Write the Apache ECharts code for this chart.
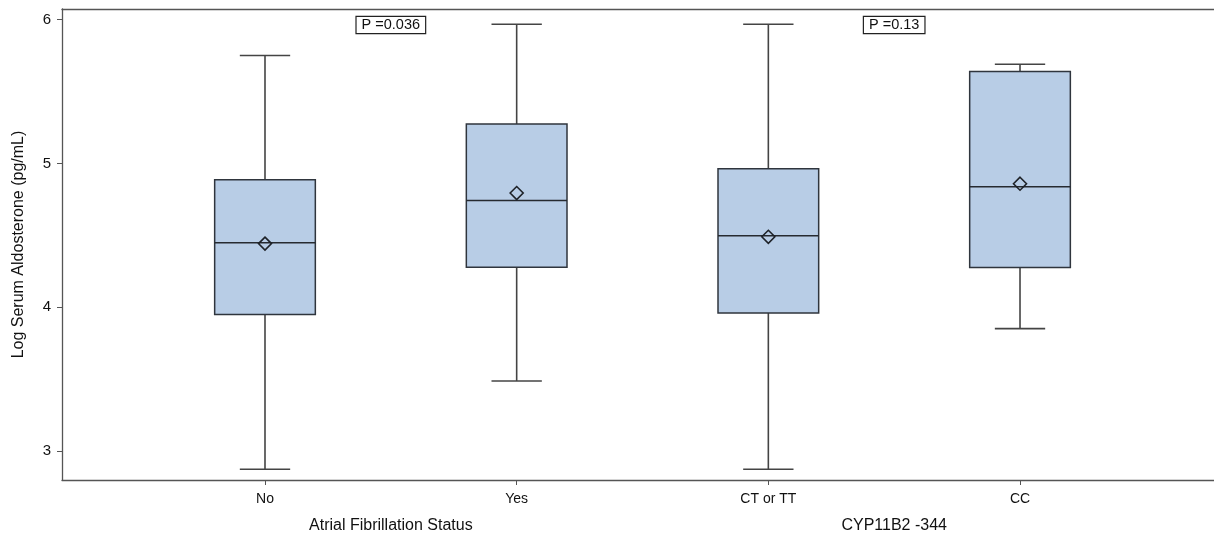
<!DOCTYPE html>
<html>
<head>
<meta charset="utf-8">
<script src="https://cdn.jsdelivr.net/npm/echarts@6/dist/echarts.min.js"></script>
<style>
  html, body { margin: 0; padding: 0; background: #fff; overflow: hidden; }
  #chart { width: 1214px; height: 534px; }
</style>
</head>
<body>
<div id="chart"></div>
<script>
// Box plot data: log serum aldosterone by AF status and CYP11B2 -344 genotype
const categories   = ['No', 'Yes', 'CT or TT', 'CC'];
const groupTitles  = ['Atrial Fibrillation Status', 'CYP11B2 -344'];
const whiskerLow   = [2.875, 3.488, 2.875, 3.852];
const quartile1    = [3.950, 4.279, 3.961, 4.276];
const medians      = [4.448, 4.742, 4.497, 4.838];
const quartile3    = [4.887, 5.274, 4.963, 5.638];
const whiskerHigh  = [5.750, 5.967, 5.967, 5.689];
const means        = [4.443, 4.794, 4.490, 4.859];
const pValueTexts  = ['P =0.036', 'P =0.13'];
const yTicks       = [3, 4, 5, 6];

const catPositions   = categories.map((c, i) => i + 1);
const groupPositions = [1.5, 3.5];

const BOX_W = 0.40;   // box width in x-axis units
const CAP_W = 0.20;   // whisker cap width in x-axis units
const FONT = '"Liberation Sans", Arial, Helvetica, sans-serif';
const LINE = '#444';
const FRAME = '#555';

const boxData = catPositions.map((x, i) => [
  x, whiskerLow[i], quartile1[i], medians[i], quartile3[i], whiskerHigh[i], means[i]
]);
const pData = groupPositions.map((x, i) => [x, 6, i]);

const chart = echarts.init(document.getElementById('chart'), null, { renderer: 'canvas' });

// x range: the plot frame is open on the right side
const X_MIN = 0.1934, X_MAX = 4.7708;

chart.setOption({
  animation: false,
  backgroundColor: '#fff',
  grid: { left: 62, right: 0, top: 9, bottom: 54 },
  xAxis: [{
    type: 'value',
    min: X_MIN, max: X_MAX,
    axisLine: { show: true, onZero: false, lineStyle: { color: FRAME, width: 1.3 } },
    axisTick: { show: true, customValues: catPositions, length: 5, lineStyle: { color: FRAME } },
    axisLabel: {
      customValues: catPositions,
      formatter: v => categories[Math.round(v) - 1],
      color: '#111', fontSize: 14, fontFamily: FONT, margin: 12
    },
    splitLine: { show: false }
  }, {
    type: 'value',
    position: 'bottom',
    min: X_MIN, max: X_MAX,
    axisLine: { show: false },
    axisTick: { show: false },
    axisLabel: {
      customValues: groupPositions,
      formatter: v => groupTitles[v < 2.5 ? 0 : 1],
      color: '#111', fontSize: 16, fontFamily: FONT, margin: 38
    },
    splitLine: { show: false }
  }, {
    type: 'value',
    position: 'top',
    min: X_MIN, max: X_MAX,
    axisLine: { show: true, onZero: false, lineStyle: { color: FRAME, width: 1.3 } },
    axisTick: { show: false },
    axisLabel: { show: false },
    splitLine: { show: false }
  }],
  yAxis: {
    type: 'value',
    min: 2.80, max: 6.073,
    name: 'Log Serum Aldosterone (pg/mL)',
    nameLocation: 'middle',
    nameGap: 35,
    nameRotate: 90,
    nameTextStyle: { color: '#111', fontSize: 16, fontFamily: FONT },
    axisLine: { show: true, onZero: false, lineStyle: { color: FRAME, width: 1.3 } },
    axisTick: { show: true, customValues: yTicks, length: 5, lineStyle: { color: FRAME } },
    axisLabel: {
      customValues: yTicks,
      color: '#111', fontSize: 15, fontFamily: FONT, margin: 11
    },
    splitLine: { show: false }
  },
  series: [{
    type: 'custom',
    xAxisIndex: 0,
    data: boxData,
    encode: { x: 0, y: [1, 2, 3, 4, 5, 6] },
    renderItem(params, api) {
      const x = api.value(0);
      const lo = api.coord([x, api.value(1)]);
      const q1 = api.coord([x, api.value(2)]);
      const md = api.coord([x, api.value(3)]);
      const q3 = api.coord([x, api.value(4)]);
      const hi = api.coord([x, api.value(5)]);
      const mn = api.coord([x, api.value(6)]);
      const cx = lo[0];
      const bw = api.size([BOX_W, 0])[0];
      const cw = api.size([CAP_W, 0])[0];
      const d = 6.5;
      const whisk = { stroke: LINE, lineWidth: 1.6 };
      return {
        type: 'group',
        children: [
          { type: 'line', shape: { x1: cx, y1: hi[1], x2: cx, y2: q3[1] }, style: whisk },
          { type: 'line', shape: { x1: cx, y1: q1[1], x2: cx, y2: lo[1] }, style: whisk },
          { type: 'line', shape: { x1: cx - cw / 2, y1: hi[1], x2: cx + cw / 2, y2: hi[1] }, style: whisk },
          { type: 'line', shape: { x1: cx - cw / 2, y1: lo[1], x2: cx + cw / 2, y2: lo[1] }, style: whisk },
          {
            type: 'rect',
            shape: { x: cx - bw / 2, y: q3[1], width: bw, height: q1[1] - q3[1] },
            style: { fill: '#b8cde6', stroke: '#2f353d', lineWidth: 1.5 }
          },
          {
            type: 'line',
            shape: { x1: cx - bw / 2, y1: md[1], x2: cx + bw / 2, y2: md[1] },
            style: { stroke: '#262a30', lineWidth: 1.5 }
          },
          {
            type: 'polygon',
            shape: { points: [[mn[0], mn[1] - d], [mn[0] + d, mn[1]], [mn[0], mn[1] + d], [mn[0] - d, mn[1]]] },
            style: { fill: 'none', stroke: '#1e2228', lineWidth: 1.6 }
          }
        ]
      };
    }
  }, {
    type: 'custom',
    xAxisIndex: 0,
    data: pData,
    encode: { x: 0, y: 1 },
    renderItem(params, api) {
      const p = api.coord([api.value(0), api.value(1)]);
      const top = params.coordSys.y;
      return {
        type: 'text',
        x: p[0], y: top + 16,
        style: {
          text: pValueTexts[api.value(2)],
          align: 'center', verticalAlign: 'middle',
          fontSize: 14.5, fontFamily: FONT, fill: '#111',
          backgroundColor: '#fff',
          borderColor: '#222', borderWidth: 1.2,
          padding: [1, 5, 0, 5]
        }
      };
    }
  }]
});
</script>
</body>
</html>
